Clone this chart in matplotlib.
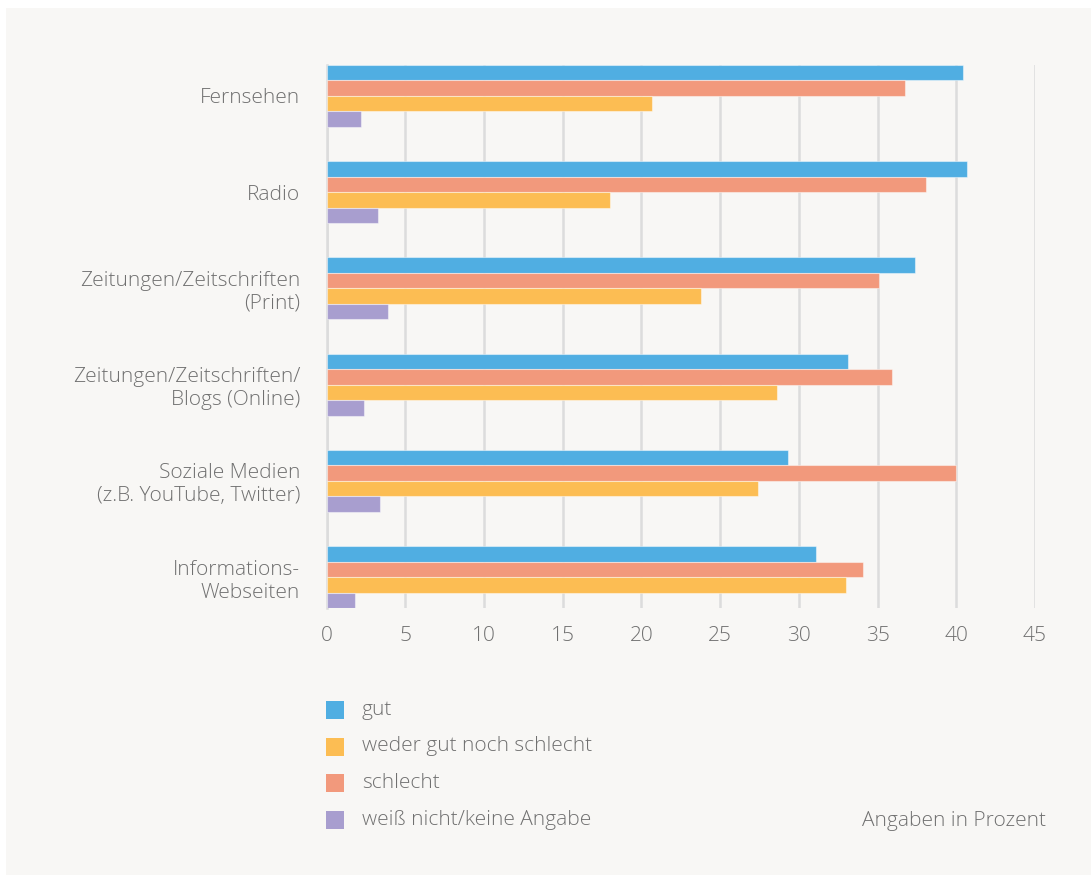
import matplotlib
matplotlib.use("Agg")
import matplotlib.pyplot as plt
from matplotlib.patches import Rectangle
import numpy as np

categories = [
    "Fernsehen",
    "Radio",
    "Zeitungen/Zeitschriften\n(Print)",
    "Zeitungen/Zeitschriften/\nBlogs (Online)",
    "Soziale Medien\n(z.B. YouTube, Twitter)",
    "Informations-\nWebseiten",
]
gut = [40.4, 40.7, 37.4, 33.1, 29.3, 31.1]
schlecht = [36.75, 38.1, 35.1, 35.9, 40.0, 34.1]
weder = [20.7, 18.0, 23.8, 28.6, 27.4, 33.0]
weiss = [2.2, 3.3, 3.9, 2.4, 3.4, 1.8]

x_ticks = [0, 5, 10, 15, 20, 25, 30, 35, 40, 45]

legend_labels = ["gut", "weder gut noch schlecht", "schlecht", "weiß nicht/keine Angabe"]
c_gut = "#50aee2"
c_weder = "#fcbd53"
c_schlecht = "#f2997c"
c_weiss = "#a89ecf"

text_color = "#707070"
FS = 15
plt.rcParams["font.family"] = ["Open Sans", "DejaVu Sans"]
plt.rcParams["font.weight"] = "light"

fig = plt.figure(figsize=(10.91, 8.77), dpi=100)
fig.patch.set_facecolor("white")
# background panel
bg = Rectangle((6 / 1091, 1 - 875 / 877), 1 - 6 / 1091, (875 - 8) / 877,
               transform=fig.transFigure, facecolor="#f8f7f5",
               edgecolor="none", zorder=-10)
fig.patches.append(bg)

ax = fig.add_axes([326.5 / 1091, 1 - 608 / 877, (1035 - 326.5) / 1091, (608 - 65) / 877])
ax.set_facecolor("none")
ax.set_zorder(1)

n = len(categories)
y = np.arange(n)
h = 0.161
series = [(gut, c_gut), (schlecht, c_schlecht), (weder, c_weder), (weiss, c_weiss)]
for i, (vals, col) in enumerate(series):
    ax.barh(y - 1.5 * h + i * h, vals, height=h, color=col,
            edgecolor=(1, 1, 1, 0.45), linewidth=0.8, zorder=3)

ax.set_xlim(0, 45)
ax.set_ylim(n - 1 + 2 * h, -2 * h)
ax.set_xticks(x_ticks)
ax.set_xticklabels([str(t) for t in x_ticks])
ax.set_yticks(y)
ax.set_yticklabels(categories, linespacing=1.2)
ax.tick_params(axis="both", length=0, labelsize=FS, colors=text_color)
ax.tick_params(axis="y", pad=19)
ax.tick_params(axis="x", pad=13)
for lab in ax.get_yticklabels():
    lab.set_horizontalalignment("right")
    lab.set_multialignment("right")

ax.grid(axis="x", color="#dcdcdc", linewidth=1.8, zorder=0)
ax.grid(axis="y", visible=False)
for s in ["top", "right", "bottom"]:
    ax.spines[s].set_visible(False)
ax.spines["left"].set_color("#dcdcdc")
ax.spines["left"].set_linewidth(1.8)

# legend (manual)
legend_colors = [c_gut, c_weder, c_schlecht, c_weiss]
ys = [710, 746.5, 783, 820]
for lab, col, yy in zip(legend_labels, legend_colors, ys):
    fig.patches.append(Rectangle((326 / 1091, 1 - (yy + 9) / 877), 18 / 1091, 18 / 877,
                                 transform=fig.transFigure, facecolor=col,
                                 edgecolor="none", zorder=2))
    fig.text(362 / 1091, 1 - yy / 877, lab, ha="left", va="center",
             fontsize=FS, color=text_color)

fig.text(1046 / 1091, 1 - 821 / 877, "Angaben in Prozent", ha="right", va="center",
         fontsize=FS, color=text_color)

fig.savefig("out.png", dpi=100)
